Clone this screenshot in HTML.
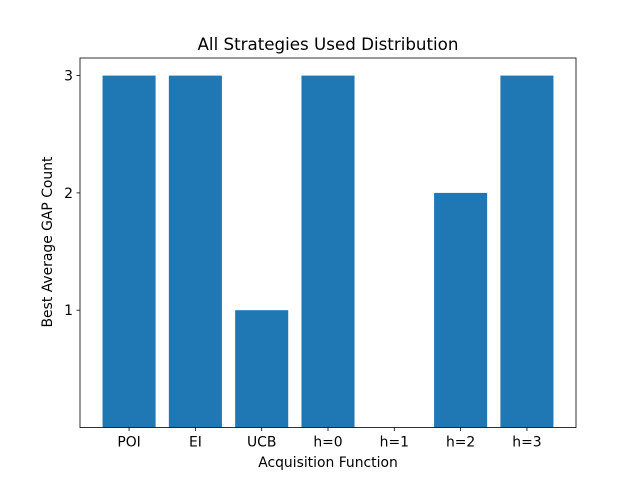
<!DOCTYPE html>
<html><head><meta charset="utf-8"><style>
html,body{margin:0;padding:0;background:#fff;}
svg{display:block;font-family:"DejaVu Sans","Liberation Sans",sans-serif;}
</style></head><body>
<svg id="chart" width="640" height="480" viewBox="0 0 640 480">
<rect width="640" height="480" fill="#fff"/>
<text x="328" y="50" text-anchor="middle" font-size="16.7">All Strategies Used Distribution</text>
<g id="bars"></g>
<g id="axes"></g>
<text x="328" y="467" text-anchor="middle" font-size="13.9">Acquisition Function</text>
<text transform="translate(52,242) rotate(-90)" text-anchor="middle" font-size="13.9">Best Average GAP Count</text>
</svg>
<script>
const categories = ["POI","EI","UCB","h=0","h=1","h=2","h=3"];
const counts = [3,3,1,3,0,2,3];
const yTicks = [1,2,3];
const X0=80,X1=576,Y0=58,Y1=427.5;
const xmin=-0.74,xmax=6.74,ymin=0,ymax=3.15;
const sx=v=>X0+(v-xmin)/(xmax-xmin)*(X1-X0);
const sy=v=>Y1-(v-ymin)/(ymax-ymin)*(Y1-Y0);
const NS="http://www.w3.org/2000/svg";
const bars=document.getElementById('bars'), axes=document.getElementById('axes');
function mk(tag,attrs,parent){const e=document.createElementNS(NS,tag);for(const k in attrs)e.setAttribute(k,attrs[k]);parent.appendChild(e);return e;}
categories.forEach((c,i)=>{
  const r=mk('rect',{x:sx(i-0.4),y:sy(counts[i]),width:sx(i+0.4)-sx(i-0.4),height:sy(0)-sy(counts[i]),fill:'#1f77b4'},bars);
  
  
  const t=mk('line',{x1:sx(i),x2:sx(i),y1:Y1,y2:Y1+3.5,stroke:'#000','stroke-width':0.8},axes);
  
  
  const l=mk('text',{x:sx(i),y:Y1+19,'text-anchor':'middle','font-size':13.9},axes);
  l.textContent=c;
  
  
});
yTicks.forEach(v=>{
  const t=mk('line',{x1:X0-3.5,x2:X0,y1:sy(v),y2:sy(v),stroke:'#000','stroke-width':0.8},axes);
  
  
  const l=mk('text',{x:X0-7,y:sy(v)+5,'text-anchor':'end','font-size':13.9},axes);
  l.textContent=v;
  
  
});
const f=mk('rect',{x:X0,y:Y0,width:X1-X0,height:Y1-Y0,fill:'none',stroke:'#000','stroke-width':0.8},axes);


</script>
</body></html>
